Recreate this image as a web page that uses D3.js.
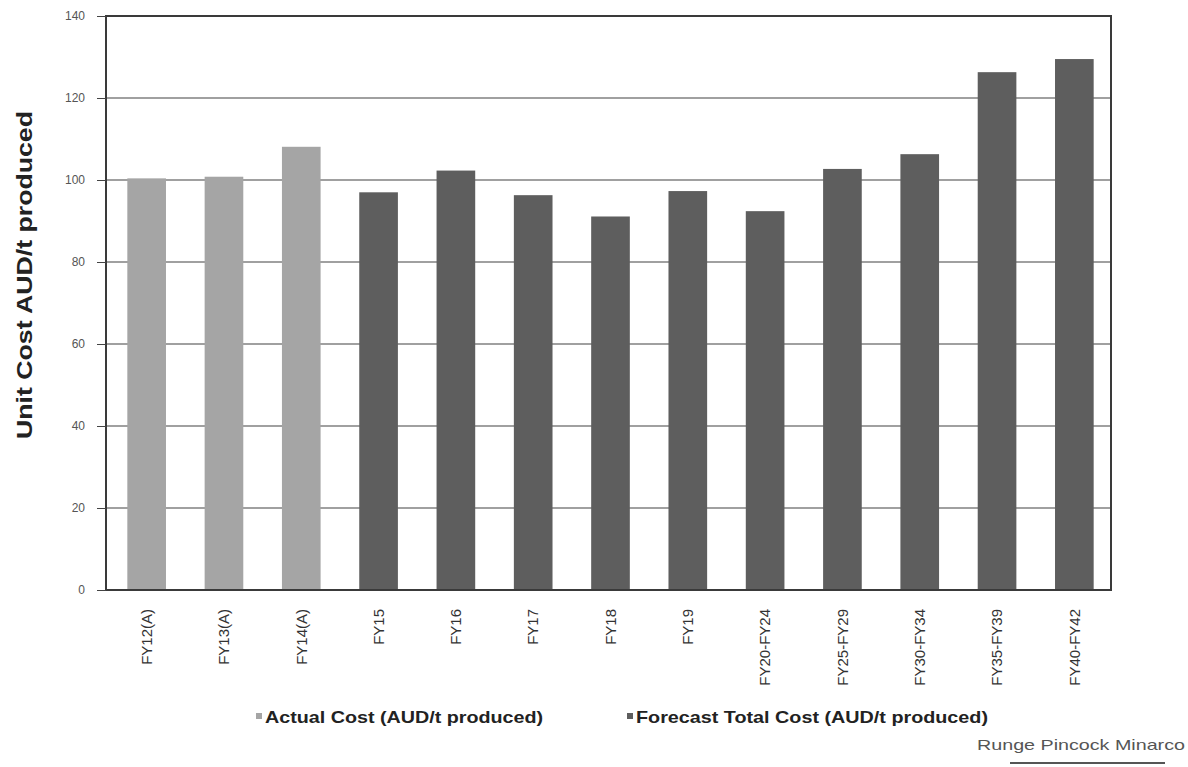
<!DOCTYPE html>
<html><head><meta charset="utf-8">
<script src="https://cdn.jsdelivr.net/npm/d3@7"></script>
<style>body{margin:0;background:#fff}</style>
</head><body>
<svg id="c" width="1188" height="767"></svg>
<script>
const categories = ["FY12(A)","FY13(A)","FY14(A)","FY15","FY16","FY17","FY18","FY19","FY20-FY24","FY25-FY29","FY30-FY34","FY35-FY39","FY40-FY42"];
const values = [100.4,100.8,108.1,97.0,102.3,96.3,91.1,97.3,92.4,102.7,106.3,126.3,129.5];
const seriesOf = ["actual","actual","actual","forecast","forecast","forecast","forecast","forecast","forecast","forecast","forecast","forecast","forecast"];
const yTicks = [0,20,40,60,80,100,120,140];
const seriesNames = ["Actual Cost (AUD/t produced)","Forecast Total Cost (AUD/t produced)"];
const yTitle = "Unit Cost AUD/t produced";
const credit = "Runge Pincock Minarco";

const colors = {actual:"#a5a5a5", forecast:"#5e5e5e"};
const svg = d3.select("#c");
const m = {l:106, r:1111, t:16, b:590};
const x = d3.scaleBand().domain(categories).range([m.l+2, m.r+2]).paddingInner(0.5).paddingOuter(0.25);
const y = d3.scaleLinear().domain([0,140]).range([m.b, m.t]);

// gridlines
svg.append("g").selectAll("line").data(yTicks).join("line")
  .attr("x1", m.l).attr("x2", m.r).attr("y1", d=>y(d)).attr("y2", d=>y(d))
  .attr("stroke", "#808080").attr("stroke-width", 1.3);

// bars
svg.append("g").selectAll("rect").data(categories).join("rect")
  .attr("x", d=>x(d)).attr("width", x.bandwidth())
  .attr("y", (d,i)=>y(values[i])).attr("height", (d,i)=>y(0)-y(values[i]))
  .attr("fill", (d,i)=>colors[seriesOf[i]]);

// frame
svg.append("rect").attr("x", m.l).attr("y", m.t).attr("width", m.r-m.l).attr("height", m.b-m.t)
  .attr("fill","none").attr("stroke","#3a3a3a").attr("stroke-width",2);

// y axis
const ya = svg.append("g").attr("transform", `translate(${m.l},0)`)
  .call(d3.axisLeft(y).tickValues(yTicks).tickSize(9).tickPadding(12));
ya.select(".domain").remove();
ya.selectAll(".tick line").attr("stroke","#444");
ya.selectAll("text").attr("font-family","Liberation Sans, Arial, sans-serif").attr("font-size",12).attr("fill","#555");

// x axis
const xa = svg.append("g").attr("transform", `translate(0,${m.b})`)
  .call(d3.axisBottom(x).tickSize(0).tickPadding(0));
xa.select(".domain").remove();
xa.selectAll("text")
  .attr("font-family","Liberation Sans, Arial, sans-serif").attr("font-size",15).attr("fill","#333")
  .attr("transform","rotate(-90)").attr("text-anchor","end").attr("dy","0.35em").attr("x",-19).attr("y",0);

// y title
svg.append("text").attr("transform","translate(32,275) rotate(-90)").attr("text-anchor","middle")
  .attr("font-family","Liberation Sans, Arial, sans-serif").attr("font-weight","bold").attr("font-size",22).attr("fill","#222")
  .attr("textLength",328).attr("lengthAdjust","spacingAndGlyphs")
  .text(yTitle);

// legend
const legX = [256, 627];
const legW = [278, 352];
const lg = svg.append("g");
seriesNames.forEach((n,i)=>{
  const key = i===0 ? "actual" : "forecast";
  lg.append("rect").attr("x", legX[i]).attr("y", 713).attr("width",6).attr("height",6).attr("fill", colors[key]);
  lg.append("text").attr("x", legX[i]+9).attr("y", 723)
    .attr("font-family","Liberation Sans, Arial, sans-serif").attr("font-weight","bold")
    .attr("font-size",17).attr("fill","#222")
    .attr("textLength",legW[i]).attr("lengthAdjust","spacingAndGlyphs").text(n);
});

// credit
svg.append("text").attr("x", 1185).attr("y", 750).attr("text-anchor","end")
  .attr("font-family","Liberation Sans Narrow, Liberation Sans, Arial, sans-serif").attr("font-size",15).attr("fill","#555")
  .attr("textLength",208).attr("lengthAdjust","spacingAndGlyphs")
  .text(credit);
svg.append("line").attr("x1",1010).attr("x2",1165).attr("y1",763).attr("y2",763).attr("stroke","#555").attr("stroke-width",2);
</script>
</body></html>
